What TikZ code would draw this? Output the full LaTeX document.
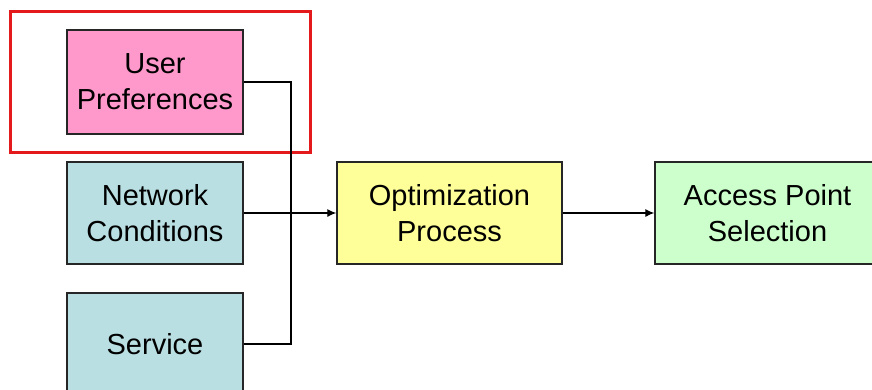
\documentclass[tikz,border=0pt]{standalone}
\usepackage{fontspec}
\setmainfont{Liberation Sans}
\usetikzlibrary{arrows.meta}
\definecolor{prefpink}{HTML}{FF99CC}
\definecolor{inputblue}{HTML}{B9DFE3}
\definecolor{procyellow}{HTML}{FFFF99}
\definecolor{outgreen}{HTML}{CCFFCC}
\definecolor{framered}{HTML}{E3191C}
\definecolor{edgegray}{HTML}{262626}
\tikzset{
  stagebox/.style={draw=edgegray, line width=1.3pt, inner sep=0pt,
    minimum width=176pt, minimum height=102pt, align=center,
    font=\fontsize{29}{36}\selectfont},
  widebox/.style={stagebox, minimum width=225pt},
  link/.style={draw=black, line width=1.2pt},
  flow/.style={link, -{Latex[length=9pt,width=8pt]}},
}
\begin{document}
\begin{tikzpicture}[x=1pt,y=-1pt]
  \useasboundingbox (0,0) rectangle (872,389);
  % highlight frame around the user-preference input
  \node[draw=framered, line width=3pt, minimum width=300pt, minimum height=141pt,
        inner sep=0pt] (focus) at (160,81.5) {};
  % input stages
  \node[stagebox, fill=prefpink, minimum height=104pt] (user) at (155,82) {User\\Preferences};
  \node[stagebox, fill=inputblue] (net) at (155,213) {Network\\Conditions};
  \node[stagebox, fill=inputblue] (serv) at (155,344) {Service};
  % processing and result
  \node[widebox, fill=procyellow] (opt) at (449.5,213) {Optimization\\Process};
  \node[widebox, fill=outgreen] (ap) at (767.5,213) {Access Point\\Selection};
  % junction where the inputs merge
  \coordinate (merge) at (291,213);
  \draw[link] (user.east) -| (merge);
  \draw[link] (serv.east) -| (merge);
  \draw[flow] (net.east) -- (opt.west);
  \draw[flow] (opt.east) -- (ap.west);
\end{tikzpicture}
\end{document}
